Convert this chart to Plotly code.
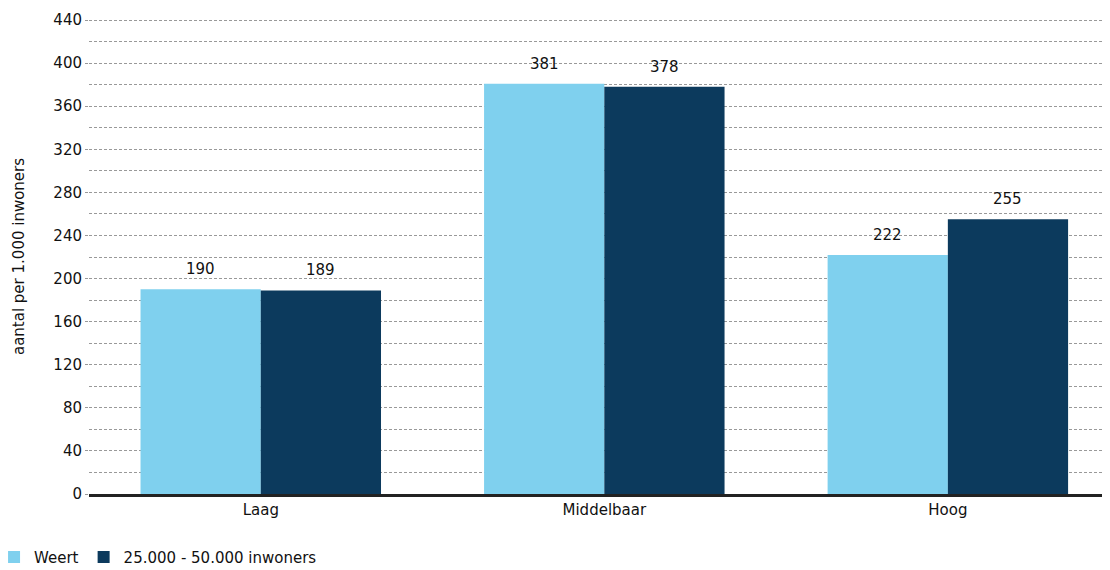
import plotly.graph_objects as go

categories = ["Laag", "Middelbaar", "Hoog"]
weert = [190, 381, 222]
ref = [189, 378, 255]
series_names = ["Weert", "25.000 - 50.000 inwoners"]
colors = ["#7FD0EE", "#0C3A5D"]

FONT = "DejaVu Sans, Verdana, sans-serif"

fig = go.Figure()
for name, vals, col in zip(series_names, [weert, ref], colors):
    fig.add_trace(go.Bar(x=categories, y=vals, name=name, marker=dict(color=col, line=dict(width=0))))

# value labels above bars
for vals, shift in [(weert, -60), (ref, 60)]:
    for c, v in zip(categories, vals):
        fig.add_annotation(x=c, y=v, text=str(v), showarrow=False, xshift=shift,
                           yanchor="bottom", yshift=9, font=dict(size=15, color="#111", family=FONT))

fig.update_layout(
    width=1102, height=562,
    margin=dict(l=81, r=0, t=11, b=76, autoexpand=False),
    paper_bgcolor="white", plot_bgcolor="white",
    font=dict(family=FONT, size=15, color="#111"),
    barmode="group", bargap=0.3, bargroupgap=0,
    showlegend=True,
    legend=dict(orientation="h", xref="paper", x=-0.093, xanchor="left",
                yref="paper", y=-0.133, yanchor="middle",
                font=dict(size=15, family=FONT, color="#111"), itemwidth=30, tracegroupgap=0),
    xaxis=dict(range=[-0.5, 2.472], showgrid=False, showline=True, linecolor="#222", linewidth=3,
               ticks="", tickfont=dict(size=15), automargin=False),
    yaxis=dict(range=[0, 441], dtick=40, tick0=0, showgrid=True, gridcolor="#999999", griddash="3px,2px",
               gridwidth=1, ticks="outside", ticklen=3, tickcolor="#999999", zeroline=False, showline=False,
               tickfont=dict(size=15), automargin=False,
               minor=dict(dtick=20, showgrid=True, gridcolor="#999999", griddash="3px,2px", gridwidth=1),
               title=dict(text="aantal per 1.000 inwoners", font=dict(size=15), standoff=25)),
)

fig.write_html("out.html")
